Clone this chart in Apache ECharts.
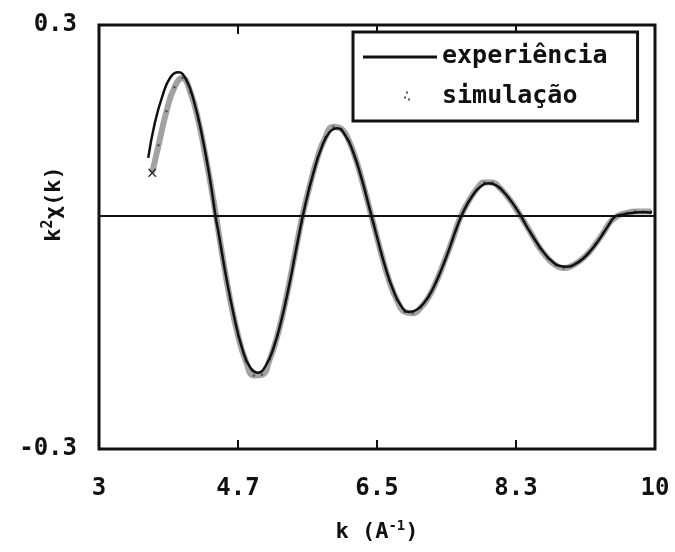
<!DOCTYPE html>
<html>
<head>
<meta charset="utf-8">
<script src="https://cdn.jsdelivr.net/npm/echarts@6/dist/echarts.min.js"></script>
<style>
  html, body { margin: 0; padding: 0; background: #fff; }
  #chart { width: 675px; height: 552px; }
</style>
</head>
<body>
<div id="chart"></div>
<script>
// k values (A^-1) and k^2 chi(k)
const kExp = [3.62, 3.7, 3.8, 3.9, 4.0, 4.1, 4.2, 4.3, 4.4, 4.47, 4.5, 4.6, 4.7, 4.8, 4.9, 5.0,
  5.1, 5.2, 5.3, 5.4, 5.5, 5.6, 5.7, 5.8, 5.9, 6.0, 6.1, 6.2, 6.3, 6.4, 6.5, 6.6, 6.7, 6.8, 6.9,
  7.0, 7.1, 7.2, 7.3, 7.4, 7.5, 7.6, 7.7, 7.8, 7.9, 8.0, 8.1, 8.2, 8.3, 8.4, 8.5, 8.6, 8.7, 8.8,
  8.9, 9.0, 9.1, 9.2, 9.3, 9.4, 9.5, 9.6, 9.7, 9.8, 9.9, 9.96]
const experiencia = [0.112, 0.160, 0.200, 0.226, 0.233, 0.222, 0.190, 0.142, 0.080, 0.027, 0.009,
  -0.056, -0.112, -0.157, -0.184, -0.192, -0.182, -0.156, -0.116, -0.065, -0.007, 0.047, 0.091,
  0.126, 0.148, 0.154, 0.144, 0.120, 0.085, 0.043, 0.000, -0.041, -0.074, -0.097, -0.106,
  -0.103, -0.092, -0.074, -0.049, -0.020, 0.012, 0.039, 0.058, 0.071, 0.076, 0.073, 0.063,
  0.049, 0.032, 0.012, -0.006, -0.022, -0.034, -0.041, -0.042, -0.038, -0.030, -0.018, -0.003,
  0.014, 0.029, 0.032, 0.034, 0.035, 0.035, 0.034]

const kSim = [3.67, 3.75, 3.85, 3.95, 4.05, 4.15, 4.25, 4.35, 4.45, 4.55, 4.65, 4.75, 4.85, 4.95,
  5.05, 5.15, 5.25, 5.35, 5.45, 5.55, 5.65, 5.75, 5.85, 5.95, 6.05, 6.15, 6.25, 6.35, 6.45, 6.55,
  6.65, 6.75, 6.85, 6.95, 7.05, 7.15, 7.25, 7.35, 7.45, 7.55, 7.65, 7.75, 7.85, 7.95, 8.05, 8.15,
  8.25, 8.35, 8.45, 8.55, 8.65, 8.75, 8.85, 8.95, 9.05, 9.15, 9.25, 9.35, 9.45, 9.55, 9.65, 9.75,
  9.85, 9.95]
const simulacao = [0.091, 0.130, 0.178, 0.212, 0.225, 0.205, 0.165, 0.109, 0.046, -0.024, -0.088,
  -0.139, -0.176, -0.196, -0.195, -0.173, -0.138, -0.090, -0.034, 0.024, 0.071, 0.112, 0.141,
  0.156, 0.153, 0.135, 0.104, 0.064, 0.021, -0.022, -0.061, -0.089, -0.106, -0.108, -0.100,
  -0.085, -0.062, -0.034, -0.004, 0.028, 0.050, 0.067, 0.077, 0.077, 0.069, 0.056, 0.040, 0.022,
  0.003, -0.016, -0.030, -0.040, -0.044, -0.041, -0.034, -0.024, -0.010, 0.006, 0.023, 0.031,
  0.034, 0.036, 0.036, 0.036]

const baseline = 0.027
const xTickValues = [3, 4.75, 6.5, 8.25, 10]
const xTickLabels = ['3', '4.7', '6.5', '8.3', '10']
const yTickValues = [-0.3, 0.3]
const yTickLabels = ['-0.3', '0.3']

const font = 'DejaVu Sans Mono'
const crossIcon = 'path://M0,0 L2,0 L5,3 L8,0 L10,0 L6,4 L10,8 L8,8 L5,5 L2,8 L0,8 L4,4 Z'

const chart = echarts.init(document.getElementById('chart'), null, { renderer: 'canvas' })

const tickStyle = { show: true, inside: true, length: 9, customValues: xTickValues, lineStyle: { color: '#111', width: 2 } }

const option = {
  animation: false,
  backgroundColor: '#fff',
  grid: {
    left: 99, right: 20, top: 25, bottom: 103,
    outerBoundsMode: 'none', containLabel: false,
    show: true, borderColor: '#111', borderWidth: 3, backgroundColor: 'transparent'
  },
  legend: {
    left: 353, top: 32,
    orient: 'vertical',
    padding: [12, 30, 12, 10],
    itemWidth: 74, itemHeight: 20, itemGap: 15,
    symbolKeepAspect: true,
    backgroundColor: '#fff',
    borderColor: '#111', borderWidth: 3,
    textStyle: { fontFamily: font, fontSize: 25, fontWeight: 'bold', color: '#111' },
    data: [
      { name: 'experiência', icon: 'path://M0,0 M74,20 M0,9 L74,9 L74,12 L0,12 Z' },
      { name: 'simulação', icon: 'path://M0,0 M74,20 M43,5h2v2h-2z M41,10h2v2h-2z M45,12h2v2h-2z' }
    ]
  },
  xAxis: [{
    type: 'value', min: 3, max: 10, position: 'bottom',
    name: 'k (A{s|-1})',
    nameLocation: 'middle', nameGap: 70, nameMoveOverlap: false,
    nameTextStyle: {
      fontFamily: font, fontSize: 22, fontWeight: 'bold', color: '#111',
      rich: { s: { fontFamily: font, fontSize: 14, fontWeight: 'bold', verticalAlign: 'top', padding: [0, 0, 12, 0] } }
    },
    axisLine: { show: false, onZero: false },
    splitLine: { show: false },
    axisTick: tickStyle,
    axisLabel: {
      customValues: xTickValues, margin: 28,
      fontFamily: font, fontSize: 24, fontWeight: 'bold', color: '#111',
      formatter: v => xTickLabels[xTickValues.indexOf(v)]
    }
  }, {
    type: 'value', min: 3, max: 10, position: 'top',
    axisLine: { show: false, onZero: false },
    splitLine: { show: false },
    axisTick: tickStyle,
    axisLabel: { show: false }
  }],
  yAxis: {
    type: 'value', min: -0.3, max: 0.3,
    name: 'k{s|2}χ(k)',
    nameLocation: 'middle', nameGap: 31, nameRotate: 90, nameMoveOverlap: false,
    nameTextStyle: {
      fontFamily: font, fontSize: 22, fontWeight: 'bold', color: '#111',
      padding: [0, 0, 0, 66],
      rich: { s: { fontFamily: font, fontSize: 15, fontWeight: 'bold', padding: [0, 0, 12, 0] } }
    },
    axisLine: { show: false, onZero: false },
    splitLine: { show: false },
    axisTick: { show: false },
    axisLabel: {
      customValues: yTickValues, margin: 22,
      fontFamily: font, fontSize: 24, fontWeight: 'bold', color: '#111',
      formatter: v => yTickLabels[yTickValues.indexOf(v)]
    }
  },
  series: [{
    name: 'simulação',
    type: 'line',
    data: kSim.map((k, i) => i === 0
      ? { value: [k, simulacao[i]], symbol: crossIcon, symbolSize: [9, 8], itemStyle: { color: '#222' } }
      : [k, simulacao[i]]),
    smooth: true,
    symbol: 'circle', symbolSize: 2.5, showSymbol: true,
    itemStyle: { color: '#555' },
    lineStyle: { color: 'rgba(100,100,100,0.6)', width: 6 },
    z: 2
  }, {
    name: 'experiência',
    type: 'line',
    data: kExp.map((k, i) => [k, experiencia[i]]),
    smooth: true,
    showSymbol: false,
    itemStyle: { color: '#111' },
    lineStyle: { color: '#111', width: 2.5 },
    z: 3,
    markLine: {
      silent: true, symbol: 'none', label: { show: false },
      lineStyle: { color: '#111', width: 2, type: 'solid' },
      data: [{ yAxis: baseline }]
    }
  }]
}

chart.setOption(option)
</script>
</body>
</html>
